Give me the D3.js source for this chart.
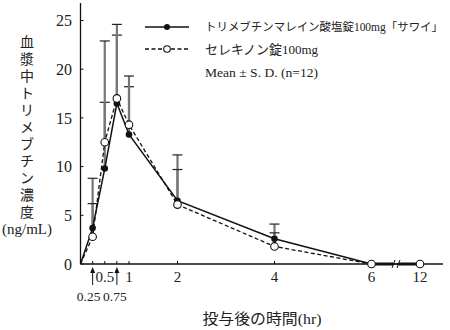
<!DOCTYPE html>
<html><head><meta charset="utf-8">
<script src="https://cdn.jsdelivr.net/npm/d3@7"></script>
<style>
body{margin:0;background:#fff;}
</style></head>
<body>
<svg id="c" width="450" height="330"></svg>
<script>
const times = [0, 0.25, 0.5, 0.75, 1, 2, 4, 6, 12];
const generic = [0, 3.7, 9.8, 16.5, 13.3, 6.5, 2.6, 0, 0];
const genericSD = [0, 5.1, 6.8, 7.0, 4.9, 4.7, 1.5, 0, 0];
const brand = [0, 2.8, 12.5, 17.0, 14.3, 6.1, 1.8, 0, 0];
const brandSD = [0, 3.4, 10.4, 7.6, 5.0, 3.6, 1.4, 0, 0];
const yTicks = [0, 5, 10, 15, 20, 25];
const xTicksMain = [0.5, 1, 2, 4, 6, 12];
const xTicksArrow = [0.25, 0.75];
const xTickMarks = [0.25, 0.5, 0.75, 1, 2, 4];
const legendLabels = ["トリメブチンマレイン酸塩錠100mg「サワイ」", "セレキノン錠100mg", "Mean ± S. D. (n=12)"];
const yLabelChars = "血漿中トリメブチン濃度";
const yUnit = "(ng/mL)";
const xTitle = "投与後の時間(hr)";

const FONT = "'Liberation Serif', 'Noto Sans CJK JP', serif";
const svg = d3.select("#c");
const x = d3.scaleLinear().domain([0, 6, 12]).range([80.5, 371.5, 420]);
const y = d3.scaleLinear().domain([0, 25]).range([264, 20.5]);

function txt(sel) { return sel.append("text").attr("font-family", FONT).attr("fill", "#222"); }

// axes lines
svg.append("line").attr("x1", x(0)).attr("x2", x(0)).attr("y1", 3).attr("y2", y(0))
  .attr("stroke", "#111").attr("stroke-width", 1.3);
svg.append("line").attr("x1", x(0)).attr("x2", 443).attr("y1", y(0)).attr("y2", y(0))
  .attr("stroke", "#111").attr("stroke-width", 1.3);
svg.append("line").attr("x1", x(6)).attr("x2", x(12)).attr("y1", y(0)).attr("y2", y(0))
  .attr("stroke", "#111").attr("stroke-width", 3);

// y ticks
yTicks.forEach(t => {
  svg.append("line").attr("x1", x(0)).attr("x2", x(0) + 3).attr("y1", y(t)).attr("y2", y(t))
    .attr("stroke", "#111").attr("stroke-width", 1);
  txt(svg).attr("x", 72).attr("y", y(t)).attr("dy", "0.35em")
    .attr("text-anchor", "end").attr("font-size", 16).text(t);
});
// x tick marks
xTickMarks.forEach(t => {
  svg.append("line").attr("x1", x(t)).attr("x2", x(t)).attr("y1", y(0)).attr("y2", y(0) - 3)
    .attr("stroke", "#111").attr("stroke-width", 1);
});
xTicksMain.forEach(t => {
  txt(svg).attr("x", x(t)).attr("y", 282).attr("text-anchor", "middle")
    .attr("font-size", 15).text(t);
});
// arrows
const arrowShift = [-4, -2];
xTicksArrow.forEach((t, i) => {
  svg.append("line").attr("x1", x(t)).attr("x2", x(t)).attr("y1", 285).attr("y2", 270)
    .attr("stroke", "#111").attr("stroke-width", 1);
  svg.append("path").attr("d", `M${x(t)},267 L${x(t) - 2.5},273 L${x(t) + 2.5},273 Z`).attr("fill", "#111");
  txt(svg).attr("x", x(t) + arrowShift[i]).attr("y", 301).attr("text-anchor", "middle")
    .attr("font-size", 13.5).text(t);
});

// axis break
const bx = 396;
svg.append("rect").attr("x", bx - 2.5).attr("y", y(0) - 3).attr("width", 5).attr("height", 6).attr("fill", "#fff");
[-2.5, 2.5].forEach(o => {
  svg.append("line").attr("x1", bx + o - 1.5).attr("x2", bx + o + 1.5).attr("y1", y(0) + 4).attr("y2", y(0) - 4)
    .attr("stroke", "#111").attr("stroke-width", 1);
});

// error bars
function errBars(means, sds) {
  times.forEach((t, i) => {
    if (sds[i] <= 0) return;
    const top = y(means[i] + sds[i]);
    svg.append("line").attr("x1", x(t)).attr("x2", x(t)).attr("y1", y(means[i])).attr("y2", top)
      .attr("stroke", "#777").attr("stroke-width", 2.2);
    svg.append("line").attr("x1", x(t) - 5).attr("x2", x(t) + 5).attr("y1", top).attr("y2", top)
      .attr("stroke", "#222").attr("stroke-width", 1.2);
  });
}
errBars(generic, genericSD);
errBars(brand, brandSD);

const line = d3.line().x((d, i) => x(times[i])).y(d => y(d));
svg.append("path").datum(brand).attr("d", line).attr("fill", "none")
  .attr("stroke", "#111").attr("stroke-width", 1.3).attr("stroke-dasharray", "4,2.5");
svg.append("path").datum(generic).attr("d", line).attr("fill", "none")
  .attr("stroke", "#111").attr("stroke-width", 1.5);

times.forEach((t, i) => {
  if (t === 0) return;
  svg.append("circle").attr("cx", x(t)).attr("cy", y(generic[i])).attr("r", 3.3).attr("fill", "#111");
});
times.forEach((t, i) => {
  if (t === 0) return;
  svg.append("circle").attr("cx", x(t)).attr("cy", y(brand[i])).attr("r", 3.8)
    .attr("fill", "#fff").attr("stroke", "#111").attr("stroke-width", 1.1);
});

// legend
const lg = svg.append("g");
lg.append("line").attr("x1", 145).attr("x2", 189).attr("y1", 27).attr("y2", 27).attr("stroke", "#111").attr("stroke-width", 1.5);
lg.append("circle").attr("cx", 167).attr("cy", 27).attr("r", 3).attr("fill", "#111");
lg.append("line").attr("x1", 145).attr("x2", 189).attr("y1", 49).attr("y2", 49).attr("stroke", "#111")
  .attr("stroke-width", 1.3).attr("stroke-dasharray", "4,2.5");
lg.append("circle").attr("cx", 167).attr("cy", 49).attr("r", 3.3).attr("fill", "#fff").attr("stroke", "#111").attr("stroke-width", 1.1);
const legY = [27, 49, 72];
const legW = [238, 113, 113];
const legFS = [11.5, 13, 13.5];
legendLabels.forEach((s, i) => {
  txt(lg).attr("x", 205).attr("y", legY[i]).attr("dy", "0.35em").attr("font-size", legFS[i])
    .attr("textLength", legW[i]).attr("lengthAdjust", "spacingAndGlyphs").text(s);
});

// y label
Array.from(yLabelChars).forEach((ch, i) => {
  txt(svg).attr("x", 27).attr("y", 42 + i * 17).attr("dy", "0.35em")
    .attr("text-anchor", "middle").attr("font-size", 14).text(ch);
});
txt(svg).attr("x", 27).attr("y", 229).attr("dy", "0.35em").attr("text-anchor", "middle")
  .attr("font-size", 15).text(yUnit);

txt(svg).attr("x", 262).attr("y", 319).attr("dy", "0.35em").attr("text-anchor", "middle")
  .attr("font-size", 15).attr("textLength", 119).attr("lengthAdjust", "spacingAndGlyphs").text(xTitle);
</script>
</body></html>
